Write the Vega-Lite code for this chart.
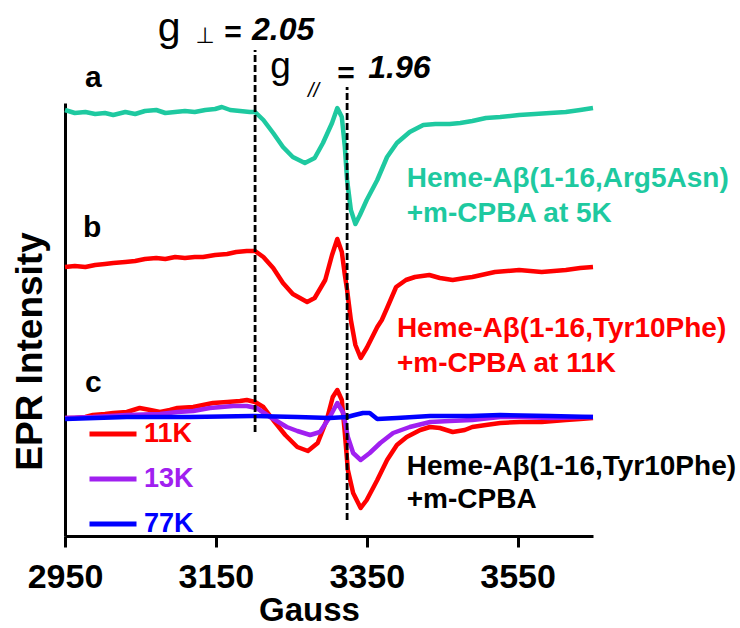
{
  "$schema": "https://vega.github.io/schema/vega-lite/v6.json",
  "width": 528,
  "height": 433,
  "autosize": {"type": "none"},
  "padding": {"left": 65, "top": 103, "right": 147, "bottom": 92},
  "background": "white",
  "config": {"view": {"stroke": null}, "font": "Liberation Sans"},
  "datasets": {
    "spectra": [
      {"trace":"a","gauss":2950,"intensity":426},{"trace":"a","gauss":2963,"intensity":423},{"trace":"a","gauss":2977,"intensity":424},{"trace":"a","gauss":2990,"intensity":422},{"trace":"a","gauss":3003,"intensity":423},{"trace":"a","gauss":3014,"intensity":421},{"trace":"a","gauss":3030,"intensity":424},{"trace":"a","gauss":3043,"intensity":422},{"trace":"a","gauss":3056,"intensity":425},{"trace":"a","gauss":3071,"intensity":426},{"trace":"a","gauss":3083,"intensity":423},{"trace":"a","gauss":3096,"intensity":424},{"trace":"a","gauss":3109,"intensity":425},{"trace":"a","gauss":3122,"intensity":424},{"trace":"a","gauss":3136,"intensity":426},{"trace":"a","gauss":3149,"intensity":427},{"trace":"a","gauss":3158,"intensity":429},{"trace":"a","gauss":3169,"intensity":426},{"trace":"a","gauss":3182,"intensity":425},{"trace":"a","gauss":3195,"intensity":424},{"trace":"a","gauss":3202,"intensity":424},{"trace":"a","gauss":3213,"intensity":416},{"trace":"a","gauss":3226,"intensity":403},{"trace":"a","gauss":3239,"intensity":389},{"trace":"a","gauss":3252,"intensity":379},{"trace":"a","gauss":3268,"intensity":373},{"trace":"a","gauss":3281,"intensity":378},{"trace":"a","gauss":3292,"intensity":393},{"trace":"a","gauss":3304,"intensity":413},{"trace":"a","gauss":3311,"intensity":428},{"trace":"a","gauss":3317,"intensity":419},{"trace":"a","gauss":3321,"intensity":389},{"trace":"a","gauss":3324,"intensity":356},{"trace":"a","gauss":3329,"intensity":326},{"trace":"a","gauss":3335,"intensity":312},{"trace":"a","gauss":3341,"intensity":321},{"trace":"a","gauss":3350,"intensity":336},{"trace":"a","gauss":3364,"intensity":356},{"trace":"a","gauss":3377,"intensity":379},{"trace":"a","gauss":3390,"intensity":393},{"trace":"a","gauss":3407,"intensity":404},{"trace":"a","gauss":3425,"intensity":411},{"trace":"a","gauss":3441,"intensity":412},{"trace":"a","gauss":3460,"intensity":412},{"trace":"a","gauss":3474,"intensity":413},{"trace":"a","gauss":3490,"intensity":415},{"trace":"a","gauss":3508,"intensity":418},{"trace":"a","gauss":3527,"intensity":419},{"trace":"a","gauss":3552,"intensity":421},{"trace":"a","gauss":3573,"intensity":422},{"trace":"a","gauss":3593,"intensity":423},{"trace":"a","gauss":3614,"intensity":424},{"trace":"a","gauss":3633,"intensity":426},{"trace":"a","gauss":3650,"intensity":428},

      {"trace":"b","gauss":2950,"intensity":269},{"trace":"b","gauss":2963,"intensity":270},{"trace":"b","gauss":2977,"intensity":269},{"trace":"b","gauss":2990,"intensity":271},{"trace":"b","gauss":3003,"intensity":272},{"trace":"b","gauss":3014,"intensity":273},{"trace":"b","gauss":3030,"intensity":274},{"trace":"b","gauss":3043,"intensity":275},{"trace":"b","gauss":3056,"intensity":277},{"trace":"b","gauss":3071,"intensity":278},{"trace":"b","gauss":3083,"intensity":277},{"trace":"b","gauss":3096,"intensity":279},{"trace":"b","gauss":3109,"intensity":278},{"trace":"b","gauss":3122,"intensity":279},{"trace":"b","gauss":3133,"intensity":279},{"trace":"b","gauss":3149,"intensity":281},{"trace":"b","gauss":3165,"intensity":282},{"trace":"b","gauss":3177,"intensity":284},{"trace":"b","gauss":3191,"intensity":285},{"trace":"b","gauss":3202,"intensity":285},{"trace":"b","gauss":3213,"intensity":279},{"trace":"b","gauss":3226,"intensity":268},{"trace":"b","gauss":3239,"intensity":253},{"trace":"b","gauss":3252,"intensity":242},{"trace":"b","gauss":3271,"intensity":234},{"trace":"b","gauss":3281,"intensity":238},{"trace":"b","gauss":3295,"intensity":256},{"trace":"b","gauss":3304,"intensity":281},{"trace":"b","gauss":3311,"intensity":297},{"trace":"b","gauss":3317,"intensity":284},{"trace":"b","gauss":3321,"intensity":261},{"trace":"b","gauss":3324,"intensity":246},{"trace":"b","gauss":3329,"intensity":216},{"trace":"b","gauss":3335,"intensity":191},{"trace":"b","gauss":3342,"intensity":178},{"trace":"b","gauss":3350,"intensity":188},{"trace":"b","gauss":3364,"intensity":209},{"trace":"b","gauss":3370,"intensity":216},{"trace":"b","gauss":3377,"intensity":228},{"trace":"b","gauss":3389,"intensity":249},{"trace":"b","gauss":3402,"intensity":256},{"trace":"b","gauss":3414,"intensity":259},{"trace":"b","gauss":3433,"intensity":261},{"trace":"b","gauss":3447,"intensity":258},{"trace":"b","gauss":3464,"intensity":256},{"trace":"b","gauss":3480,"intensity":258},{"trace":"b","gauss":3490,"intensity":259},{"trace":"b","gauss":3508,"intensity":262},{"trace":"b","gauss":3520,"intensity":264},{"trace":"b","gauss":3552,"intensity":266},{"trace":"b","gauss":3582,"intensity":264},{"trace":"b","gauss":3614,"intensity":266},{"trace":"b","gauss":3633,"intensity":268},{"trace":"b","gauss":3650,"intensity":269},

      {"trace":"11K","gauss":2950,"intensity":118},{"trace":"11K","gauss":2963,"intensity":118},{"trace":"11K","gauss":2977,"intensity":119},{"trace":"11K","gauss":2987,"intensity":121},{"trace":"11K","gauss":3003,"intensity":122},{"trace":"11K","gauss":3014,"intensity":123},{"trace":"11K","gauss":3032,"intensity":124},{"trace":"11K","gauss":3049,"intensity":128},{"trace":"11K","gauss":3063,"intensity":126},{"trace":"11K","gauss":3076,"intensity":124},{"trace":"11K","gauss":3089,"intensity":126},{"trace":"11K","gauss":3099,"intensity":128},{"trace":"11K","gauss":3120,"intensity":129},{"trace":"11K","gauss":3133,"intensity":131},{"trace":"11K","gauss":3146,"intensity":133},{"trace":"11K","gauss":3165,"intensity":134},{"trace":"11K","gauss":3182,"intensity":135},{"trace":"11K","gauss":3191,"intensity":136},{"trace":"11K","gauss":3202,"intensity":134},{"trace":"11K","gauss":3213,"intensity":129},{"trace":"11K","gauss":3226,"intensity":116},{"trace":"11K","gauss":3242,"intensity":101},{"trace":"11K","gauss":3258,"intensity":89},{"trace":"11K","gauss":3272,"intensity":85},{"trace":"11K","gauss":3285,"intensity":93},{"trace":"11K","gauss":3297,"intensity":116},{"trace":"11K","gauss":3305,"intensity":139},{"trace":"11K","gauss":3311,"intensity":146},{"trace":"11K","gauss":3317,"intensity":136},{"trace":"11K","gauss":3321,"intensity":103},{"trace":"11K","gauss":3325,"intensity":66},{"trace":"11K","gauss":3332,"intensity":43},{"trace":"11K","gauss":3342,"intensity":28},{"trace":"11K","gauss":3350,"intensity":36},{"trace":"11K","gauss":3364,"intensity":56},{"trace":"11K","gauss":3377,"intensity":76},{"trace":"11K","gauss":3390,"intensity":91},{"trace":"11K","gauss":3403,"intensity":99},{"trace":"11K","gauss":3421,"intensity":106},{"trace":"11K","gauss":3434,"intensity":109},{"trace":"11K","gauss":3447,"intensity":108},{"trace":"11K","gauss":3464,"intensity":104},{"trace":"11K","gauss":3480,"intensity":106},{"trace":"11K","gauss":3490,"intensity":109},{"trace":"11K","gauss":3508,"intensity":111},{"trace":"11K","gauss":3527,"intensity":113},{"trace":"11K","gauss":3553,"intensity":114},{"trace":"11K","gauss":3582,"intensity":114},{"trace":"11K","gauss":3614,"intensity":116},{"trace":"11K","gauss":3633,"intensity":117},{"trace":"11K","gauss":3650,"intensity":118},

      {"trace":"13K","gauss":2950,"intensity":118},{"trace":"13K","gauss":2987,"intensity":119},{"trace":"13K","gauss":3032,"intensity":121},{"trace":"13K","gauss":3076,"intensity":122},{"trace":"13K","gauss":3099,"intensity":124},{"trace":"13K","gauss":3120,"intensity":125},{"trace":"13K","gauss":3142,"intensity":128},{"trace":"13K","gauss":3173,"intensity":130},{"trace":"13K","gauss":3191,"intensity":130},{"trace":"13K","gauss":3204,"intensity":128},{"trace":"13K","gauss":3222,"intensity":119},{"trace":"13K","gauss":3244,"intensity":109},{"trace":"13K","gauss":3258,"intensity":105},{"trace":"13K","gauss":3275,"intensity":101},{"trace":"13K","gauss":3288,"intensity":104},{"trace":"13K","gauss":3301,"intensity":119},{"trace":"13K","gauss":3311,"intensity":133},{"trace":"13K","gauss":3319,"intensity":123},{"trace":"13K","gauss":3325,"intensity":99},{"trace":"13K","gauss":3332,"intensity":83},{"trace":"13K","gauss":3342,"intensity":76},{"trace":"13K","gauss":3354,"intensity":83},{"trace":"13K","gauss":3368,"intensity":93},{"trace":"13K","gauss":3385,"intensity":103},{"trace":"13K","gauss":3407,"intensity":109},{"trace":"13K","gauss":3434,"intensity":114},{"trace":"13K","gauss":3460,"intensity":115},{"trace":"13K","gauss":3490,"intensity":116},{"trace":"13K","gauss":3527,"intensity":119},{"trace":"13K","gauss":3553,"intensity":119},{"trace":"13K","gauss":3593,"intensity":118},{"trace":"13K","gauss":3650,"intensity":119},

      {"trace":"77K","gauss":2950,"intensity":117},{"trace":"77K","gauss":3032,"intensity":119},{"trace":"77K","gauss":3116,"intensity":119},{"trace":"77K","gauss":3199,"intensity":120},{"trace":"77K","gauss":3258,"intensity":119},{"trace":"77K","gauss":3301,"intensity":118},{"trace":"77K","gauss":3324,"intensity":119},{"trace":"77K","gauss":3334,"intensity":121},{"trace":"77K","gauss":3345,"intensity":123},{"trace":"77K","gauss":3354,"intensity":123},{"trace":"77K","gauss":3364,"intensity":117},{"trace":"77K","gauss":3390,"intensity":118},{"trace":"77K","gauss":3434,"intensity":120},{"trace":"77K","gauss":3487,"intensity":120},{"trace":"77K","gauss":3527,"intensity":121},{"trace":"77K","gauss":3593,"intensity":120},{"trace":"77K","gauss":3650,"intensity":119}
    ]
  },
  "layer": [
    {
      "data": {"name": "spectra"},
      "transform": [{"filter": "datum.trace == 'a'"}],
      "mark": {"type": "line", "color": "#1ec9a0", "strokeWidth": 4.5, "strokeJoin": "round"},
      "encoding": {
        "x": {"field": "gauss", "type": "quantitative", "title": "Gauss",
          "scale": {"domain": [2950, 3650], "nice": false, "zero": false},
          "axis": {"values": [2950, 3150, 3350, 3550], "format": "d", "grid": false, "domainWidth": 3, "domainColor": "black",
            "tickWidth": 3, "tickColor": "black", "tickSize": 11, "labelFontSize": 34, "labelFont": "Liberation Sans",
            "labelFontWeight": "bold", "labelColor": "black", "labelPadding": 13, "labelFlush": false, "labelOverlap": false,
            "titleFontSize": 33, "titleFont": "Liberation Sans", "titleFontWeight": "bold", "titleColor": "black",
            "titleBaseline": "alphabetic", "titleY": 84, "titleX": 244}},
        "y": {"field": "intensity", "type": "quantitative", "title": "EPR Intensity",
          "scale": {"domain": [0, 433], "nice": false, "zero": false},
          "axis": {"grid": false, "ticks": false, "labels": false, "domainWidth": 3, "domainColor": "black",
            "titleFontSize": 37, "titleFont": "Liberation Sans", "titleFontWeight": "bold", "titleColor": "black",
            "titlePadding": 16, "titleY": 248}}
      }
    },
    {
      "data": {"name": "spectra"},
      "transform": [{"filter": "datum.trace == 'b'"}],
      "mark": {"type": "line", "color": "#ff0000", "strokeWidth": 4.5, "strokeJoin": "round"},
      "encoding": {
        "x": {"field": "gauss", "type": "quantitative"},
        "y": {"field": "intensity", "type": "quantitative"}
      }
    },
    {
      "data": {"name": "spectra"},
      "transform": [{"filter": "datum.trace == '11K' || datum.trace == '13K' || datum.trace == '77K'"}],
      "mark": {"type": "line", "strokeWidth": 4.5, "strokeJoin": "round"},
      "encoding": {
        "x": {"field": "gauss", "type": "quantitative"},
        "y": {"field": "intensity", "type": "quantitative"},
        "color": {"field": "trace", "type": "nominal",
          "scale": {"domain": ["11K", "13K", "77K"], "range": ["#ff0000", "#a020f0", "#0000ff"]},
          "legend": {"orient": "none", "legendX": 22, "legendY": 305, "title": null, "padding": 0,
            "symbolType": "stroke", "symbolSize": 2209, "symbolStrokeWidth": 5,
            "labelFontSize": 27, "labelFont": "Liberation Sans", "labelFontWeight": "bold", "labelOffset": 5,
            "rowPadding": 6,
            "labelColor": {"expr": "datum.label == '11K' ? '#ff0000' : datum.label == '13K' ? '#a020f0' : '#0000ff'"}}}
      }
    },
    {
      "data": {"values": [{"g": 2.05, "gauss": 3202}]},
      "mark": {"type": "rule", "strokeDash": [7, 3], "strokeWidth": 2.8, "color": "black"},
      "encoding": {"x": {"field": "gauss", "type": "quantitative"}, "y": {"datum": 104}, "y2": {"datum": 486}}
    },
    {
      "data": {"values": [{"g": 1.96, "gauss": 3324}]},
      "mark": {"type": "rule", "strokeDash": [7, 3], "strokeWidth": 2.8, "color": "black"},
      "encoding": {"x": {"field": "gauss", "type": "quantitative"}, "y": {"datum": 16}, "y2": {"datum": 449}}
    },
    {
      "data": {"values": [{"label": "a"}]},
      "mark": {"type": "text", "align": "left", "baseline": "alphabetic", "fontSize": 30, "fontWeight": "bold", "color": "black"},
      "encoding": {"x": {"datum": 2976.5}, "y": {"datum": 449}, "text": {"field": "label"}}
    },
    {
      "data": {"values": [{"label": "b"}]},
      "mark": {"type": "text", "align": "left", "baseline": "alphabetic", "fontSize": 30, "fontWeight": "bold", "color": "black"},
      "encoding": {"x": {"datum": 2974}, "y": {"datum": 299}, "text": {"field": "label"}}
    },
    {
      "data": {"values": [{"label": "c"}]},
      "mark": {"type": "text", "align": "left", "baseline": "alphabetic", "fontSize": 30, "fontWeight": "bold", "color": "black"},
      "encoding": {"x": {"datum": 2976.5}, "y": {"datum": 144}, "text": {"field": "label"}}
    },
    {
      "data": {"values": [{"label": "Heme-Aβ(1-16,Arg5Asn)\n+m-CPBA at 5K"}]},
      "mark": {"type": "text", "align": "left", "baseline": "alphabetic", "fontSize": 28, "fontWeight": "bold", "color": "#1ec9a0", "lineBreak": "\n", "lineHeight": 35},
      "encoding": {"x": {"datum": 3403}, "y": {"datum": 349}, "text": {"field": "label"}}
    },
    {
      "data": {"values": [{"label": "Heme-Aβ(1-16,Tyr10Phe)\n+m-CPBA at 11K"}]},
      "mark": {"type": "text", "align": "left", "baseline": "alphabetic", "fontSize": 28, "fontWeight": "bold", "color": "#ff0000", "lineBreak": "\n", "lineHeight": 35},
      "encoding": {"x": {"datum": 3390}, "y": {"datum": 199}, "text": {"field": "label"}}
    },
    {
      "data": {"values": [{"label": "Heme-Aβ(1-16,Tyr10Phe)\n+m-CPBA"}]},
      "mark": {"type": "text", "align": "left", "baseline": "alphabetic", "fontSize": 28, "fontWeight": "bold", "color": "black", "lineBreak": "\n", "lineHeight": 33},
      "encoding": {"x": {"datum": 3403}, "y": {"datum": 61}, "text": {"field": "label"}}
    },
    {
      "data": {"values": [{"label": "g"}]},
      "mark": {"type": "text", "align": "left", "baseline": "alphabetic", "fontSize": 41, "color": "black"},
      "encoding": {"x": {"datum": 3073}, "y": {"datum": 495}, "text": {"field": "label"}}
    },
    {
      "data": {"values": [{"label": "⊥"}]},
      "mark": {"type": "text", "align": "left", "baseline": "alphabetic", "fontSize": 22, "font": "DejaVu Sans", "color": "black"},
      "encoding": {"x": {"datum": 3123}, "y": {"datum": 493}, "text": {"field": "label"}}
    },
    {
      "data": {"values": [{"label": "="}]},
      "mark": {"type": "text", "align": "left", "baseline": "alphabetic", "fontSize": 30, "fontWeight": "bold", "color": "black"},
      "encoding": {"x": {"datum": 3161}, "y": {"datum": 494}, "text": {"field": "label"}}
    },
    {
      "data": {"values": [{"label": "2.05"}]},
      "mark": {"type": "text", "align": "left", "baseline": "alphabetic", "fontSize": 32, "fontWeight": "bold", "fontStyle": "italic", "color": "black"},
      "encoding": {"x": {"datum": 3198}, "y": {"datum": 496}, "text": {"field": "label"}}
    },
    {
      "data": {"values": [{"label": "g"}]},
      "mark": {"type": "text", "align": "left", "baseline": "alphabetic", "fontSize": 37, "color": "black"},
      "encoding": {"x": {"datum": 3222}, "y": {"datum": 458}, "text": {"field": "label"}}
    },
    {
      "data": {"values": [{"label": "//"}]},
      "mark": {"type": "text", "align": "left", "baseline": "alphabetic", "fontSize": 20, "font": "Liberation Sans", "fontStyle": "italic", "color": "black"},
      "encoding": {"x": {"datum": 3272}, "y": {"datum": 439}, "text": {"field": "label"}}
    },
    {
      "data": {"values": [{"label": "="}]},
      "mark": {"type": "text", "align": "left", "baseline": "alphabetic", "fontSize": 30, "fontWeight": "bold", "color": "black"},
      "encoding": {"x": {"datum": 3311}, "y": {"datum": 453}, "text": {"field": "label"}}
    },
    {
      "data": {"values": [{"label": "1.96"}]},
      "mark": {"type": "text", "align": "left", "baseline": "alphabetic", "fontSize": 32, "fontWeight": "bold", "fontStyle": "italic", "color": "black"},
      "encoding": {"x": {"datum": 3352}, "y": {"datum": 458}, "text": {"field": "label"}}
    }
  ]
}
